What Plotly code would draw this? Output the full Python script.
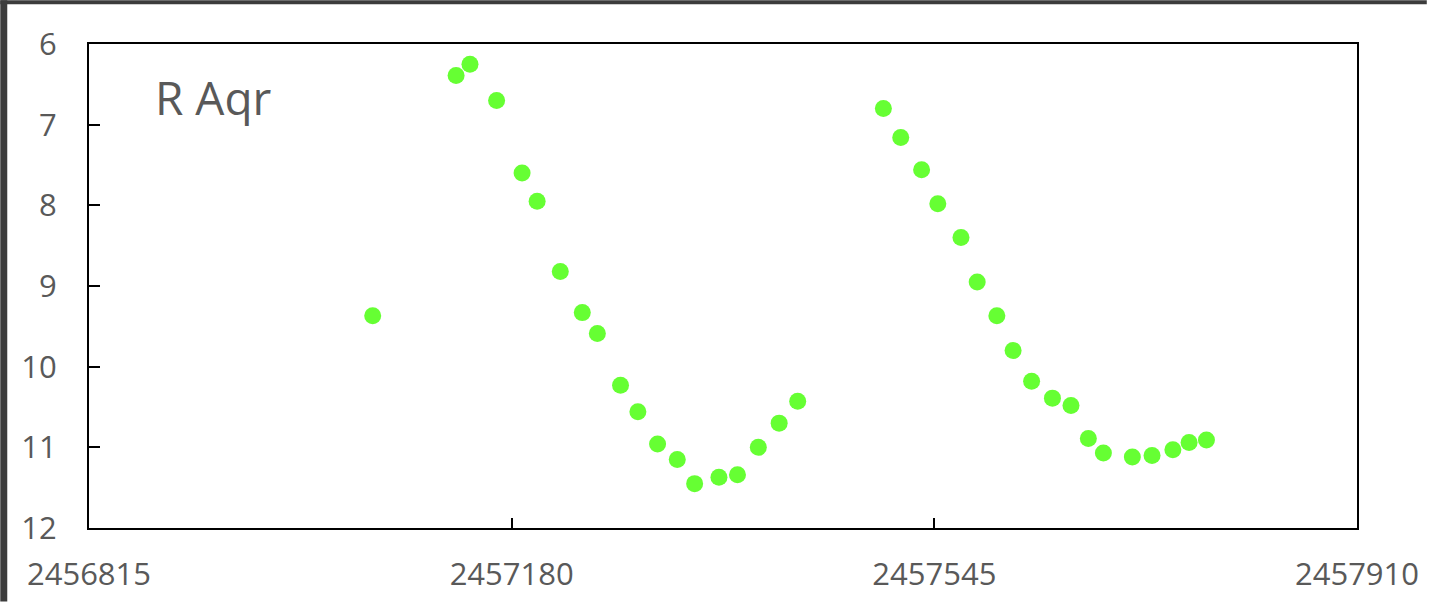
import plotly.graph_objects as go

# Julian dates and visual magnitudes of R Aqr
jd = [2457060, 2457132, 2457144, 2457167, 2457189, 2457202, 2457222, 2457241,
      2457254, 2457274, 2457289, 2457306, 2457323, 2457338, 2457359, 2457375,
      2457393, 2457411, 2457427,
      2457501, 2457516, 2457534, 2457548, 2457568, 2457582, 2457599, 2457613,
      2457629, 2457647, 2457663, 2457678, 2457691, 2457716, 2457733, 2457751,
      2457765, 2457780]
mag = [9.37, 6.39, 6.25, 6.70, 7.60, 7.95, 8.82, 9.33,
       9.59, 10.23, 10.56, 10.96, 11.15, 11.45, 11.37, 11.34,
       11.00, 10.70, 10.43,
       6.80, 7.16, 7.56, 7.98, 8.40, 8.95, 9.37, 9.80,
       10.18, 10.39, 10.48, 10.89, 11.07, 11.12, 11.10, 11.03,
       10.94, 10.91]

x_ticks = [2456815, 2457180, 2457545, 2457910]
y_ticks = [6, 7, 8, 9, 10, 11, 12]
star_name = "R Aqr"

W, H = 1431, 606
L, R, T, B = 89, 70, 44, 74
pw, ph = W - L - R, H - T - B

fig = go.Figure()
fig.add_trace(go.Scatter(
    x=jd, y=mag, mode="markers",
    marker=dict(size=17, color="#66ff33", line=dict(width=0)),
    showlegend=False,
))

font = dict(family="Open Sans", size=31, color="#595959")

fig.update_layout(
    width=W, height=H, autosize=False,
    margin=dict(l=L, r=R, t=T, b=B, pad=0),
    paper_bgcolor="white", plot_bgcolor="white",
    xaxis=dict(range=[x_ticks[0], x_ticks[-1]], tickvals=x_ticks,
               ticktext=[str(v) for v in x_ticks],
               showgrid=False, zeroline=False,
               showline=True, linecolor="black", linewidth=2, mirror=True,
               ticks="inside", ticklen=10, tickwidth=2, tickcolor="black",
               tickfont=font, ticklabelstandoff=18),
    yaxis=dict(range=[y_ticks[-1], y_ticks[0]], tickvals=y_ticks,
               showgrid=False, zeroline=False,
               showline=True, linecolor="black", linewidth=2, mirror=True,
               ticks="inside", ticklen=11, tickwidth=2, tickcolor="black",
               tickfont=font, ticklabelstandoff=24),
    annotations=[dict(text=star_name, xref="paper", yref="paper",
                      x=(153 - L) / pw, y=(H - B - 97) / ph,
                      xanchor="left", yanchor="middle", showarrow=False,
                      font=dict(family="Open Sans", size=46, color="#595959"))],
    shapes=[
        dict(type="rect", xref="paper", yref="paper", layer="above",
             x0=-L / pw, x1=(W - L) / pw,
             y0=(H - B - 4) / ph, y1=(H - B) / ph,
             fillcolor="#3c3c3c", line=dict(width=0)),
        dict(type="rect", xref="paper", yref="paper", layer="above",
             x0=-L / pw, x1=(7 - L) / pw,
             y0=-B / ph, y1=(H - B) / ph,
             fillcolor="#3c3c3c", line=dict(width=0)),
    ],
)

fig.write_html(
    "out.html",
    config={"displayModeBar": False, "responsive": False},
    post_script="document.body.style.margin='0';document.body.style.overflow='hidden';"
                "document.documentElement.style.overflow='hidden';",
)
